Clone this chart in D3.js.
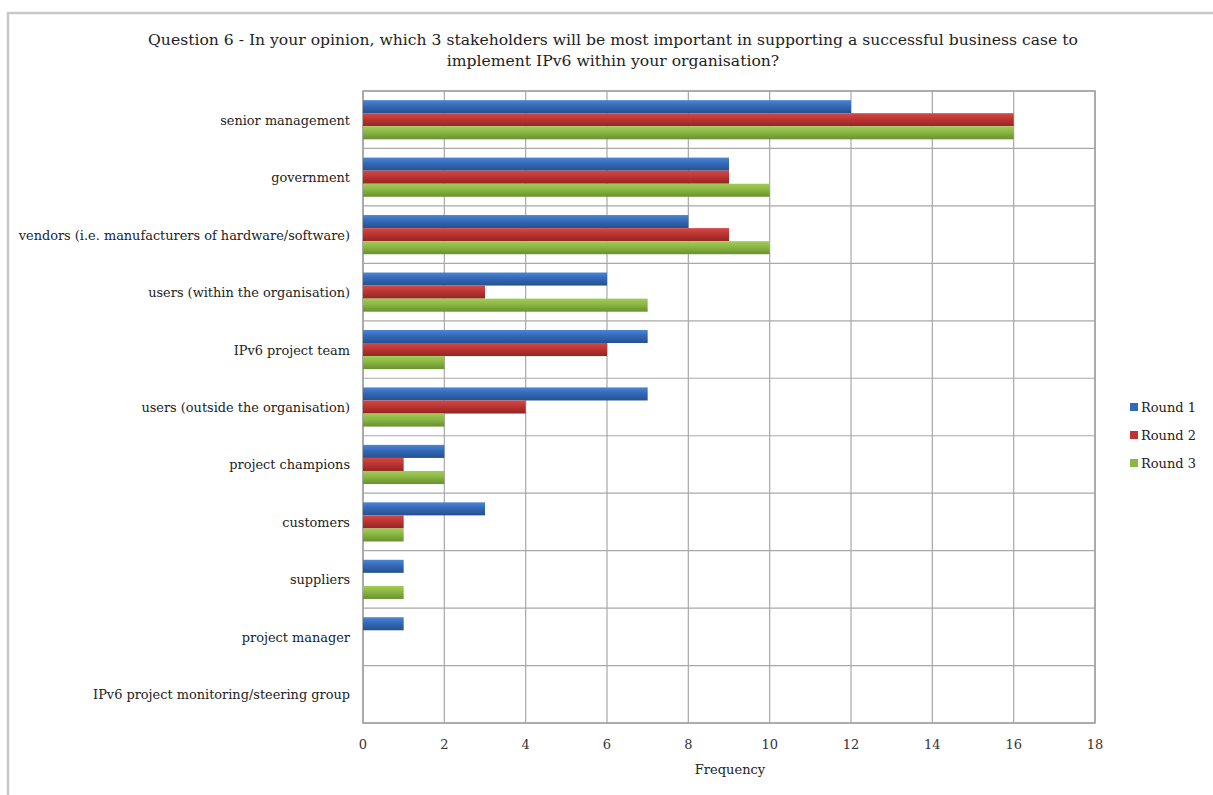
<!DOCTYPE html>
<html>
<head>
<meta charset="utf-8">
<script src="https://cdn.jsdelivr.net/npm/d3@7"></script>
<style>
  html, body { margin: 0; padding: 0; background: #fff; }
  svg { display: block; }
</style>
</head>
<body>
<svg id="chart" width="1213" height="795"></svg>
<script>
// Stakeholder categories, top to bottom
const categories = [
  "senior management",
  "government",
  "vendors (i.e. manufacturers of hardware/software)",
  "users (within the organisation)",
  "IPv6 project team",
  "users (outside the organisation)",
  "project champions",
  "customers",
  "suppliers",
  "project manager",
  "IPv6 project monitoring/steering group"
];
const seriesNames = ["Round 1", "Round 2", "Round 3"];
const round1 = [12, 9, 8, 6, 7, 7, 2, 3, 1, 1, 0];
const round2 = [16, 9, 9, 3, 6, 4, 1, 1, 0, 0, 0];
const round3 = [16, 10, 10, 7, 2, 2, 2, 1, 1, 0, 0];
const xTicks = [0, 2, 4, 6, 8, 10, 12, 14, 16, 18];
const titleLines = [
  "Question 6 - In your opinion, which 3 stakeholders will be most important in supporting a successful business case to",
  "implement IPv6 within your organisation?"
];
const xTitle = "Frequency";

const seriesValues = [round1, round2, round3];
const colors = [
  { top: "#4a86d4", mid: "#3468b8", bot: "#24518f" },
  { top: "#d24a48", mid: "#bd3432", bot: "#922624" },
  { top: "#a2cc58", mid: "#8ab642", bot: "#6a9030" }
];

const svg = d3.select("#chart");
const serif = "'DejaVu Serif', 'Liberation Serif', serif";

// Outer chart frame
svg.append("path")
  .attr("d", "M8,795 V13 H1213")
  .attr("fill", "none")
  .attr("stroke", "#c8c8c8")
  .attr("stroke-width", 2.5);

// Gradients for the bars
const defs = svg.append("defs");
colors.forEach((c, i) => {
  const g = defs.append("linearGradient")
    .attr("id", "grad" + i)
    .attr("x1", 0).attr("y1", 0).attr("x2", 0).attr("y2", 1);
  g.append("stop").attr("offset", "0%").attr("stop-color", c.top);
  g.append("stop").attr("offset", "45%").attr("stop-color", c.mid);
  g.append("stop").attr("offset", "100%").attr("stop-color", c.bot);
});

const plot = { left: 363, right: 1095, top: 91, bottom: 723 };

const x = d3.scaleLinear().domain([0, 18]).range([plot.left, plot.right]);
const y = d3.scaleBand().domain(categories).range([plot.top, plot.bottom]).paddingInner(0).paddingOuter(0);
const inner = d3.scaleBand().domain(seriesNames).range([0, y.bandwidth()]).paddingOuter(0.7).paddingInner(0);

// Title
svg.append("g").selectAll("text")
  .data(titleLines)
  .join("text")
  .attr("x", 613)
  .attr("y", 45)
  .attr("dy", (d, i) => i * 21)
  .attr("text-anchor", "middle")
  .attr("font-family", serif)
  .attr("font-size", 15.6)
  .attr("fill", "#222")
  .text(d => d);

// Vertical gridlines
svg.append("g").selectAll("line")
  .data(xTicks)
  .join("line")
  .attr("x1", d => x(d)).attr("x2", d => x(d))
  .attr("y1", plot.top).attr("y2", plot.bottom)
  .attr("stroke", "#a8a8a8")
  .attr("stroke-width", 1.2);

// Horizontal category separators
const seps = d3.range(categories.length + 1).map(i => plot.top + i * y.step());
svg.append("g").selectAll("line")
  .data(seps)
  .join("line")
  .attr("x1", plot.left).attr("x2", plot.right)
  .attr("y1", d => d).attr("y2", d => d)
  .attr("stroke", "#a8a8a8")
  .attr("stroke-width", 1.2);

// Plot outline
svg.append("rect")
  .attr("x", plot.left).attr("y", plot.top)
  .attr("width", plot.right - plot.left).attr("height", plot.bottom - plot.top)
  .attr("fill", "none")
  .attr("stroke", "#a0a0a0")
  .attr("stroke-width", 1.5);

// Bars
const groups = svg.append("g").selectAll("g")
  .data(categories)
  .join("g")
  .attr("transform", d => `translate(0,${y(d)})`);

groups.selectAll("rect")
  .data((d, ci) => seriesNames.map((s, si) => ({ s, si, v: seriesValues[si][ci] })))
  .join("rect")
  .attr("x", x(0))
  .attr("y", d => inner(d.s))
  .attr("width", d => x(d.v) - x(0))
  .attr("height", inner.bandwidth())
  .attr("fill", d => `url(#grad${d.si})`);

// Category labels
svg.append("g").selectAll("text")
  .data(categories)
  .join("text")
  .attr("x", 350)
  .attr("y", d => y(d) + y.bandwidth() / 2 + 5)
  .attr("text-anchor", "end")
  .attr("font-family", serif)
  .attr("font-size", 12.9)
  .attr("fill", "#222")
  .text(d => d);

// X axis tick labels
svg.append("g").selectAll("text")
  .data(xTicks)
  .join("text")
  .attr("x", d => x(d))
  .attr("y", 749)
  .attr("text-anchor", "middle")
  .attr("font-family", serif)
  .attr("font-size", 13)
  .attr("fill", "#333")
  .text(d => d);

// X axis title
svg.append("text")
  .attr("x", 730)
  .attr("y", 774)
  .attr("text-anchor", "middle")
  .attr("font-family", serif)
  .attr("font-size", 13)
  .attr("fill", "#222")
  .text(xTitle);

// Legend
const legend = svg.append("g").selectAll("g")
  .data(seriesNames)
  .join("g")
  .attr("transform", (d, i) => `translate(1130,${407 + i * 28})`);
legend.append("rect")
  .attr("x", 0).attr("y", -4)
  .attr("width", 8).attr("height", 8)
  .attr("fill", (d, i) => colors[i].mid);
legend.append("text")
  .attr("x", 11).attr("y", 5)
  .attr("font-family", serif)
  .attr("font-size", 13)
  .attr("fill", "#222")
  .text(d => d);
</script>
</body>
</html>
